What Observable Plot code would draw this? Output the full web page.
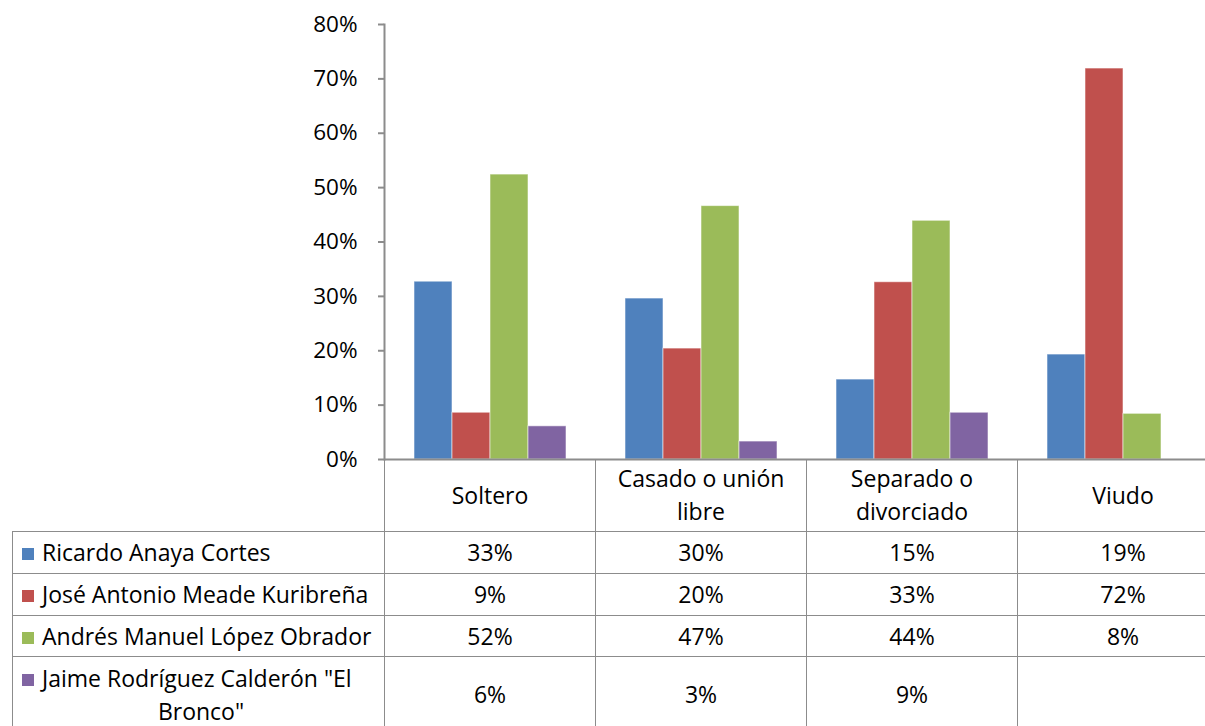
<!DOCTYPE html>
<html>
<head>
<meta charset="utf-8">
<script src="https://cdn.jsdelivr.net/npm/d3@7"></script>
<script src="https://cdn.jsdelivr.net/npm/@observablehq/plot@0.6"></script>
<style>
  html, body { margin: 0; padding: 0; overflow: hidden; background: #fff; }
  #wrap { position: relative; width: 1205px; height: 726px; overflow: hidden; font-family: "Open Sans", sans-serif; }
  #chart { position: absolute; left: 0; top: 0; width: 1240px; }
  #chart svg { max-width: none !important; }
  #tbl { position: absolute; left: 12px; top: 459px; border-collapse: collapse; table-layout: fixed; width: 1216px;
         font-family: "Open Sans", sans-serif; font-size: 23px; color: #000; }
  #tbl td { border: 1px solid #8c8c8c; text-align: center; vertical-align: middle; padding: 0 12px; line-height: 33px; }
  #tbl tr.head td { height: 72px; border-top: none; }
  #tbl tr.head td.corner { border-left: none; }
  #tbl tr.r0 td, #tbl tr.r1 td { height: 41px; }
  #tbl tr.r2 td { height: 40px; }
  #tbl tr.r3 td { height: 75px; }
  #tbl td.lab { text-align: left; padding: 0 4px 0 9px; }
  #tbl td.lab.wrapped { text-align-last: center; }
  .key { display: inline-block; width: 12px; height: 12px; margin-right: 8px; vertical-align: 1px; }
</style>
</head>
<body>
<div id="wrap">
  <div id="chart"></div>
  <table id="tbl"></table>
</div>
<script>
// Categories (marital status)
const categories = ["Soltero", "Casado o unión libre", "Separado o divorciado", "Viudo"];
// Series (candidates)
const series = [
  "Ricardo Anaya Cortes",
  "José Antonio Meade Kuribreña",
  "Andrés Manuel López Obrador",
  "Jaime Rodríguez Calderón \"El Bronco\""
];
const colors = ["#4F81BD", "#C0504D", "#9BBB59", "#8064A2"];
// Values per series, in category order
const anaya  = [0.327, 0.296, 0.147, 0.193];
const meade  = [0.086, 0.204, 0.326, 0.719];
const amlo   = [0.524, 0.466, 0.439, 0.084];
const bronco = [0.061, 0.033, 0.086, null];
const yTicks = [0, 0.1, 0.2, 0.3, 0.4, 0.5, 0.6, 0.7, 0.8];

const values = [anaya, meade, amlo, bronco];
const data = categories.flatMap((c, i) =>
  series.map((s, j) => ({category: c, series: s, value: values[j][i]}))
).filter(d => d.value != null);

const chart = Plot.plot({
  width: 1240,
  height: 466,
  marginTop: 24,
  marginBottom: 7,
  marginLeft: 384,
  marginRight: 12,
  style: {fontFamily: "Open Sans, sans-serif", fontSize: "22px", color: "#000", background: "transparent", overflow: "visible", maxWidth: "none"},
  fx: {domain: categories, padding: 0, axis: null},
  x: {domain: series, paddingInner: 0, paddingOuter: 0.776, axis: null},
  y: {domain: [0, 0.8], axis: null},
  color: {domain: series, range: colors},
  marks: [
    Plot.barY(data, {fx: "category", x: "series", y: "value", fill: "series",
      stroke: "#ffffff", strokeOpacity: 0.55, strokeWidth: 1}),
    Plot.ruleY([0], {stroke: "#8c8c8c", strokeWidth: 2}),
    Plot.axisY({ticks: yTicks, tickFormat: ".0%", tickSize: 6, tickPadding: 21,
      stroke: "#8c8c8c", strokeWidth: 2, fill: "#000", fontSize: 22.5, label: null, facetAnchor: "left"}),
    Plot.frame({anchor: "left", facetAnchor: "left", stroke: "#8c8c8c", strokeWidth: 2})
  ]
});
document.getElementById("chart").append(chart);

// Data table below the chart
const fmt = d3.format(".0%");
let html = "<colgroup><col style='width:372px'>" + categories.map(() => "<col style='width:211px'>").join("") + "</colgroup>";
html += "<tr class='head'><td class='corner'></td>" + categories.map(c => `<td>${c}</td>`).join("") + "</tr>";
series.forEach((s, j) => {
  html += `<tr class='r${j}'><td class='lab'><span class='key' style='background:${colors[j]}'></span>${s}</td>` +
    values[j].map(v => `<td>${v == null ? "" : fmt(v)}</td>`).join("") + "</tr>";
});
document.getElementById("tbl").innerHTML = html;
document.querySelectorAll("#tbl td.lab").forEach(td => {
  const range = document.createRange();
  range.selectNodeContents(td);
  const rects = Array.from(range.getClientRects());
  const tops = new Set(rects.map(r => Math.round(r.top)));
  if (td.scrollHeight > 50 || tops.size > 2) td.classList.add("wrapped");
});
</script>
</body>
</html>
